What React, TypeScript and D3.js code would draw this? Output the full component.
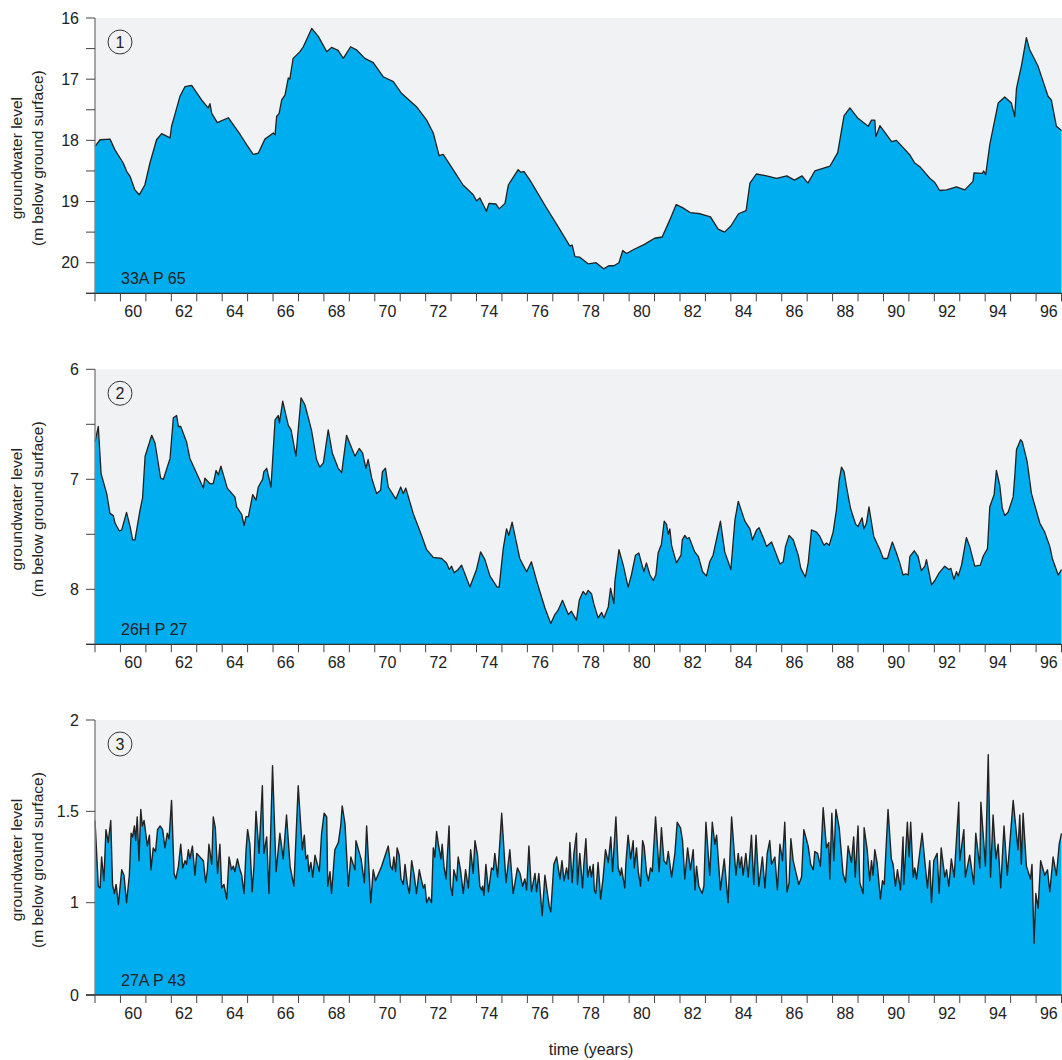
import React from 'react';
import * as d3 from 'd3';

// groundwater level readings, [decimal year, m below ground surface]
const SERIES_33A: [number, number][] = [
  [1959.00, 18.10], [1959.20, 17.99], [1959.59, 17.98], [1959.79, 18.16], [1960.11, 18.37], [1960.25, 18.51],
  [1960.38, 18.59], [1960.57, 18.81], [1960.74, 18.89], [1960.96, 18.73], [1961.16, 18.37], [1961.42, 17.99],
  [1961.62, 17.89], [1961.95, 17.96], [1962.01, 17.77], [1962.14, 17.58], [1962.34, 17.28], [1962.54, 17.12],
  [1962.80, 17.10], [1963.19, 17.34], [1963.45, 17.47], [1963.52, 17.40], [1963.59, 17.56], [1963.81, 17.71],
  [1964.24, 17.63], [1964.70, 17.90], [1964.96, 18.07], [1965.22, 18.23], [1965.42, 18.21], [1965.68, 17.98],
  [1966.01, 17.88], [1966.08, 17.91], [1966.14, 17.61], [1966.24, 17.56], [1966.34, 17.34], [1966.47, 17.26],
  [1966.60, 16.98], [1966.66, 17.00], [1966.79, 16.66], [1967.06, 16.55], [1967.19, 16.47], [1967.52, 16.17],
  [1967.78, 16.30], [1968.11, 16.55], [1968.30, 16.48], [1968.56, 16.53], [1968.76, 16.66], [1969.05, 16.47],
  [1969.28, 16.52], [1969.61, 16.66], [1969.94, 16.73], [1970.33, 16.96], [1970.73, 17.04], [1971.05, 17.23],
  [1971.64, 17.45], [1972.04, 17.67], [1972.30, 17.88], [1972.53, 18.25], [1972.69, 18.23], [1973.08, 18.48],
  [1973.47, 18.73], [1973.87, 18.89], [1974.00, 18.99], [1974.13, 18.94], [1974.39, 19.16], [1974.49, 19.03],
  [1974.76, 19.04], [1974.89, 19.12], [1975.12, 19.03], [1975.25, 18.73], [1975.64, 18.48], [1975.74, 18.52],
  [1975.87, 18.51], [1976.10, 18.65], [1976.76, 19.11], [1977.28, 19.46], [1977.67, 19.73], [1977.76, 19.71],
  [1977.87, 19.90], [1978.06, 19.91], [1978.40, 20.02], [1978.70, 20.00], [1979.00, 20.10], [1979.20, 20.05],
  [1979.40, 20.05], [1979.60, 20.00], [1979.75, 19.80], [1979.90, 19.85], [1980.20, 19.78], [1980.60, 19.70],
  [1981.00, 19.60], [1981.30, 19.58], [1981.60, 19.30], [1981.85, 19.05], [1982.10, 19.10], [1982.40, 19.18],
  [1982.80, 19.20], [1983.20, 19.25], [1983.50, 19.45], [1983.75, 19.50], [1984.00, 19.40], [1984.30, 19.20],
  [1984.60, 19.15], [1984.75, 18.70], [1985.00, 18.55], [1985.40, 18.58], [1985.80, 18.62], [1986.20, 18.58],
  [1986.50, 18.65], [1986.80, 18.58], [1987.03, 18.70], [1987.30, 18.50], [1987.90, 18.42], [1988.20, 18.20],
  [1988.45, 17.60], [1988.68, 17.47], [1989.00, 17.64], [1989.40, 17.77], [1989.53, 17.67], [1989.66, 17.67],
  [1989.70, 17.94], [1989.86, 17.76], [1990.32, 18.02], [1990.51, 18.00], [1991.04, 18.24], [1991.23, 18.37],
  [1991.43, 18.43], [1991.82, 18.62], [1992.02, 18.69], [1992.21, 18.82], [1992.48, 18.81], [1992.87, 18.76],
  [1993.20, 18.81], [1993.52, 18.67], [1993.56, 18.53], [1993.89, 18.54], [1993.94, 18.50], [1994.02, 18.56],
  [1994.18, 18.07], [1994.51, 17.39], [1994.77, 17.29], [1995.03, 17.39], [1995.16, 17.61], [1995.23, 17.15],
  [1995.43, 16.77], [1995.62, 16.32], [1995.75, 16.52], [1996.08, 16.79], [1996.47, 17.28], [1996.60, 17.34],
  [1996.80, 17.77], [1997.00, 17.84],
];

const SERIES_26H: [number, number][] = [
  [1959.00, 6.66], [1959.13, 6.52], [1959.24, 6.95], [1959.46, 7.13], [1959.59, 7.31], [1959.72, 7.33],
  [1959.79, 7.40], [1959.96, 7.47], [1960.05, 7.46], [1960.24, 7.30], [1960.38, 7.43], [1960.48, 7.55],
  [1960.57, 7.55], [1960.77, 7.28], [1960.87, 7.17], [1960.97, 6.79], [1961.23, 6.60], [1961.36, 6.67],
  [1961.58, 6.99], [1961.69, 7.00], [1961.95, 6.81], [1962.08, 6.44], [1962.21, 6.42], [1962.28, 6.52],
  [1962.37, 6.52], [1962.60, 6.66], [1962.73, 6.81], [1963.26, 7.08], [1963.32, 6.99], [1963.52, 7.04],
  [1963.65, 7.04], [1963.76, 6.92], [1963.85, 6.96], [1963.95, 6.88], [1964.20, 7.08], [1964.50, 7.16],
  [1964.57, 7.25], [1964.77, 7.32], [1964.86, 7.42], [1964.94, 7.34], [1965.03, 7.34], [1965.20, 7.14],
  [1965.33, 7.19], [1965.42, 7.07], [1965.59, 7.00], [1965.64, 6.93], [1965.75, 6.90], [1965.92, 7.07],
  [1966.08, 6.46], [1966.21, 6.42], [1966.25, 6.49], [1966.38, 6.29], [1966.60, 6.51], [1966.71, 6.55],
  [1966.90, 6.79], [1967.10, 6.26], [1967.25, 6.32], [1967.51, 6.55], [1967.71, 6.82], [1967.84, 6.89],
  [1967.98, 6.85], [1968.17, 6.55], [1968.33, 6.76], [1968.56, 6.90], [1968.70, 6.94], [1968.89, 6.60],
  [1969.22, 6.79], [1969.39, 6.72], [1969.52, 6.76], [1969.65, 6.90], [1969.74, 6.82], [1969.88, 6.99],
  [1970.07, 7.13], [1970.23, 7.10], [1970.30, 6.93], [1970.42, 6.90], [1970.53, 7.07], [1970.83, 7.18],
  [1971.02, 7.07], [1971.12, 7.13], [1971.22, 7.08], [1971.51, 7.31], [1971.84, 7.51], [1972.04, 7.64],
  [1972.30, 7.71], [1972.63, 7.72], [1972.82, 7.76], [1972.93, 7.82], [1973.02, 7.79], [1973.12, 7.85],
  [1973.28, 7.82], [1973.41, 7.78], [1973.74, 7.98], [1974.00, 7.82], [1974.16, 7.66], [1974.33, 7.73],
  [1974.53, 7.88], [1974.81, 7.98], [1974.89, 7.98], [1975.05, 7.63], [1975.18, 7.45], [1975.27, 7.51],
  [1975.40, 7.39], [1975.70, 7.72], [1975.97, 7.84], [1976.16, 7.75], [1976.36, 7.92], [1976.69, 8.17],
  [1976.92, 8.31], [1977.08, 8.23], [1977.21, 8.19], [1977.38, 8.10], [1977.61, 8.23], [1977.73, 8.20],
  [1977.93, 8.28], [1978.04, 8.10], [1978.19, 8.02], [1978.30, 8.05], [1978.39, 8.01], [1978.52, 8.04],
  [1978.61, 8.13], [1978.78, 8.26], [1978.92, 8.21], [1979.01, 8.26], [1979.18, 8.16], [1979.27, 7.99],
  [1979.40, 8.13], [1979.44, 7.93], [1979.60, 7.64], [1979.77, 7.78], [1979.96, 7.98], [1980.09, 7.87],
  [1980.25, 7.69], [1980.38, 7.67], [1980.58, 7.84], [1980.68, 7.76], [1980.82, 7.87], [1980.95, 7.92],
  [1981.05, 7.87], [1981.14, 7.67], [1981.27, 7.59], [1981.38, 7.38], [1981.47, 7.41], [1981.54, 7.50],
  [1981.60, 7.45], [1981.67, 7.60], [1981.86, 7.76], [1982.04, 7.69], [1982.09, 7.55], [1982.19, 7.51],
  [1982.28, 7.54], [1982.36, 7.53], [1982.58, 7.66], [1982.72, 7.70], [1982.89, 7.84], [1983.04, 7.88],
  [1983.17, 7.75], [1983.30, 7.69], [1983.59, 7.38], [1983.76, 7.66], [1984.00, 7.82], [1984.16, 7.37],
  [1984.29, 7.20], [1984.55, 7.38], [1984.75, 7.45], [1984.85, 7.55], [1985.01, 7.46], [1985.11, 7.44],
  [1985.31, 7.55], [1985.40, 7.61], [1985.60, 7.57], [1985.93, 7.77], [1986.06, 7.75], [1986.15, 7.61],
  [1986.29, 7.51], [1986.45, 7.55], [1986.65, 7.69], [1986.75, 7.81], [1986.93, 7.89], [1987.04, 7.76],
  [1987.17, 7.46], [1987.37, 7.48], [1987.50, 7.52], [1987.66, 7.60], [1987.76, 7.58], [1987.87, 7.60],
  [1988.02, 7.48], [1988.15, 7.28], [1988.26, 7.01], [1988.35, 6.89], [1988.45, 6.93], [1988.55, 7.07],
  [1988.70, 7.26], [1988.81, 7.34], [1988.91, 7.41], [1989.00, 7.43], [1989.16, 7.35], [1989.23, 7.45],
  [1989.33, 7.40], [1989.43, 7.25], [1989.62, 7.52], [1989.86, 7.64], [1989.99, 7.72], [1990.16, 7.72],
  [1990.23, 7.66], [1990.35, 7.57], [1990.51, 7.67], [1990.64, 7.76], [1990.77, 7.87], [1990.88, 7.86],
  [1990.97, 7.87], [1991.04, 7.70], [1991.21, 7.65], [1991.36, 7.70], [1991.49, 7.83], [1991.63, 7.79],
  [1991.69, 7.73], [1991.89, 7.96], [1992.02, 7.92], [1992.19, 7.85], [1992.41, 7.79], [1992.57, 7.82],
  [1992.65, 7.81], [1992.77, 7.91], [1992.87, 7.84], [1992.94, 7.88], [1993.07, 7.78], [1993.26, 7.53],
  [1993.39, 7.61], [1993.59, 7.79], [1993.81, 7.78], [1993.92, 7.70], [1994.09, 7.63], [1994.18, 7.25],
  [1994.35, 7.14], [1994.44, 6.92], [1994.57, 7.05], [1994.67, 7.26], [1994.77, 7.33], [1994.90, 7.30],
  [1995.10, 7.16], [1995.16, 6.98], [1995.23, 6.73], [1995.39, 6.64], [1995.46, 6.66], [1995.65, 6.84],
  [1995.82, 7.13], [1996.15, 7.40], [1996.34, 7.48], [1996.54, 7.61], [1996.64, 7.72], [1996.87, 7.87],
  [1997.00, 7.82],
];

const SERIES_27A: [number, number][] = [
  [1959.00, 1.45], [1959.13, 1.09], [1959.20, 1.08], [1959.26, 1.25], [1959.35, 1.12], [1959.43, 1.40],
  [1959.52, 1.33], [1959.62, 1.45], [1959.69, 1.10], [1959.76, 1.05], [1959.83, 1.10], [1959.92, 0.98],
  [1960.05, 1.18], [1960.14, 1.15], [1960.24, 1.00], [1960.35, 1.15], [1960.42, 1.38], [1960.48, 1.36],
  [1960.55, 1.42], [1960.60, 1.34], [1960.66, 1.47], [1960.73, 1.23], [1960.80, 1.51], [1960.86, 1.42],
  [1960.93, 1.45], [1961.06, 1.31], [1961.14, 1.37], [1961.20, 1.18], [1961.29, 1.30], [1961.38, 1.28],
  [1961.46, 1.40], [1961.56, 1.42], [1961.66, 1.40], [1961.75, 1.30], [1961.84, 1.38], [1961.91, 1.35],
  [1962.01, 1.56], [1962.11, 1.16], [1962.18, 1.13], [1962.28, 1.20], [1962.37, 1.32], [1962.45, 1.19],
  [1962.54, 1.23], [1962.60, 1.21], [1962.67, 1.29], [1962.73, 1.24], [1962.83, 1.31], [1962.93, 1.15],
  [1963.00, 1.27], [1963.26, 1.23], [1963.35, 1.11], [1963.42, 1.18], [1963.48, 1.32], [1963.59, 1.21],
  [1963.65, 1.47], [1963.73, 1.41], [1963.82, 1.16], [1963.91, 1.32], [1963.98, 1.08], [1964.07, 1.10],
  [1964.18, 1.02], [1964.27, 1.25], [1964.37, 1.18], [1964.44, 1.20], [1964.50, 1.17], [1964.60, 1.24],
  [1964.70, 1.18], [1964.77, 1.15], [1964.86, 1.05], [1964.94, 1.29], [1965.00, 1.40], [1965.09, 1.32],
  [1965.18, 1.06], [1965.25, 1.20], [1965.33, 1.50], [1965.45, 1.27], [1965.58, 1.64], [1965.64, 1.27],
  [1965.75, 1.36], [1965.84, 1.05], [1965.98, 1.75], [1966.12, 1.17], [1966.27, 1.38], [1966.40, 1.24],
  [1966.53, 1.48], [1966.67, 1.20], [1966.82, 1.09], [1966.99, 1.64], [1967.15, 1.29], [1967.23, 1.37],
  [1967.29, 1.24], [1967.36, 1.26], [1967.41, 1.17], [1967.49, 1.22], [1967.56, 1.14], [1967.65, 1.26],
  [1967.82, 1.17], [1967.91, 1.38], [1968.01, 1.49], [1968.11, 1.47], [1968.15, 1.09], [1968.24, 1.17],
  [1968.30, 1.05], [1968.43, 1.29], [1968.57, 1.33], [1968.66, 1.42], [1968.72, 1.53], [1968.83, 1.43],
  [1968.96, 1.09], [1969.06, 1.25], [1969.22, 1.18], [1969.26, 1.34], [1969.46, 1.24], [1969.59, 1.11],
  [1969.68, 1.42], [1969.84, 1.00], [1969.94, 1.18], [1970.03, 1.12], [1970.27, 1.20], [1970.53, 1.31],
  [1970.62, 1.20], [1970.69, 1.18], [1970.75, 1.25], [1970.82, 1.17], [1970.88, 1.30], [1970.96, 1.26],
  [1971.03, 1.13], [1971.12, 1.10], [1971.19, 1.21], [1971.28, 1.10], [1971.36, 1.05], [1971.45, 1.23],
  [1971.55, 1.15], [1971.64, 1.05], [1971.75, 1.18], [1971.84, 1.12], [1971.91, 1.08], [1971.97, 1.10],
  [1972.04, 1.00], [1972.13, 1.03], [1972.23, 1.00], [1972.30, 1.30], [1972.36, 1.25], [1972.43, 1.39],
  [1972.50, 1.32], [1972.60, 1.24], [1972.65, 1.32], [1972.72, 1.20], [1972.80, 1.13], [1972.92, 1.42],
  [1972.98, 1.09], [1973.05, 1.04], [1973.11, 1.18], [1973.22, 1.12], [1973.28, 1.25], [1973.37, 1.18],
  [1973.48, 1.05], [1973.57, 1.18], [1973.68, 1.08], [1973.77, 1.29], [1973.87, 1.16], [1973.94, 1.34],
  [1974.04, 1.26], [1974.13, 1.09], [1974.20, 1.07], [1974.24, 1.09], [1974.29, 1.04], [1974.37, 1.21],
  [1974.47, 1.06], [1974.59, 1.19], [1974.66, 1.18], [1974.72, 1.27], [1974.83, 1.14], [1974.99, 1.49],
  [1975.16, 1.11], [1975.31, 1.29], [1975.44, 1.05], [1975.55, 1.14], [1975.61, 1.19], [1975.71, 1.16],
  [1975.81, 1.09], [1975.90, 1.13], [1975.97, 1.07], [1976.06, 1.31], [1976.16, 1.06], [1976.30, 1.16],
  [1976.36, 1.06], [1976.45, 1.16], [1976.58, 0.86], [1976.69, 1.15], [1976.86, 0.96], [1976.92, 0.90],
  [1977.04, 1.21], [1977.15, 1.25], [1977.28, 1.13], [1977.36, 1.23], [1977.44, 1.12], [1977.54, 1.19],
  [1977.61, 1.13], [1977.67, 1.33], [1977.76, 1.11], [1977.83, 1.27], [1977.93, 1.38], [1977.97, 1.10],
  [1978.06, 1.27], [1978.17, 1.08], [1978.22, 1.21], [1978.30, 1.35], [1978.37, 1.14], [1978.46, 1.20],
  [1978.52, 1.14], [1978.59, 1.21], [1978.63, 1.07], [1978.69, 1.05], [1978.78, 1.22], [1978.88, 1.02],
  [1978.98, 1.14], [1979.07, 1.29], [1979.18, 1.22], [1979.28, 1.36], [1979.35, 1.17], [1979.48, 1.47],
  [1979.57, 1.19], [1979.66, 1.15], [1979.70, 1.19], [1979.83, 1.08], [1979.87, 1.21], [1979.96, 1.37],
  [1980.06, 1.24], [1980.16, 1.34], [1980.20, 1.19], [1980.29, 1.30], [1980.36, 1.17], [1980.45, 1.09],
  [1980.53, 1.34], [1980.59, 1.31], [1980.69, 1.16], [1980.76, 1.12], [1980.84, 1.19], [1980.91, 1.17],
  [1981.04, 1.47], [1981.18, 1.17], [1981.27, 1.41], [1981.37, 1.23], [1981.47, 1.21], [1981.54, 1.28],
  [1981.67, 1.14], [1981.80, 1.27], [1981.89, 1.44], [1982.02, 1.41], [1982.10, 1.34], [1982.19, 1.13],
  [1982.30, 1.30], [1982.41, 1.18], [1982.52, 1.29], [1982.59, 1.07], [1982.65, 1.20], [1982.74, 1.09],
  [1982.87, 1.05], [1982.94, 1.09], [1983.02, 1.44], [1983.17, 1.15], [1983.27, 1.44], [1983.37, 1.32],
  [1983.44, 1.37], [1983.59, 1.07], [1983.74, 1.24], [1983.89, 1.00], [1984.03, 1.47], [1984.20, 1.15],
  [1984.29, 1.27], [1984.35, 1.19], [1984.42, 1.25], [1984.48, 1.15], [1984.59, 1.27], [1984.68, 1.14],
  [1984.81, 1.37], [1984.90, 1.10], [1984.99, 1.37], [1985.10, 1.09], [1985.24, 1.25], [1985.34, 1.08],
  [1985.43, 1.27], [1985.53, 1.34], [1985.60, 1.21], [1985.73, 1.25], [1985.83, 1.07], [1985.93, 1.32],
  [1986.03, 1.23], [1986.12, 1.44], [1986.21, 1.06], [1986.29, 1.11], [1986.36, 1.35], [1986.45, 1.23],
  [1986.55, 1.17], [1986.67, 1.10], [1986.78, 1.14], [1986.87, 1.40], [1987.04, 1.31], [1987.14, 1.21],
  [1987.24, 1.18], [1987.30, 1.28], [1987.41, 1.27], [1987.52, 1.20], [1987.63, 1.52], [1987.76, 1.30],
  [1987.85, 1.33], [1987.89, 1.13], [1987.97, 1.49], [1988.05, 1.23], [1988.13, 1.51], [1988.26, 1.41],
  [1988.41, 1.16], [1988.51, 1.11], [1988.61, 1.31], [1988.74, 1.22], [1988.83, 1.36], [1988.89, 1.14],
  [1989.00, 1.42], [1989.07, 1.11], [1989.20, 1.05], [1989.24, 1.41], [1989.36, 1.29], [1989.46, 1.12],
  [1989.53, 1.23], [1989.59, 1.15], [1989.66, 1.29], [1989.75, 1.22], [1989.88, 1.02], [1989.96, 1.12],
  [1990.03, 1.10], [1990.18, 1.51], [1990.31, 1.24], [1990.38, 1.21], [1990.47, 1.09], [1990.55, 1.18],
  [1990.67, 1.07], [1990.77, 1.36], [1990.80, 1.10], [1990.94, 1.44], [1991.01, 1.25], [1991.07, 1.44],
  [1991.17, 1.14], [1991.23, 1.19], [1991.30, 1.13], [1991.52, 1.38], [1991.73, 1.08], [1991.82, 1.23],
  [1991.89, 1.00], [1991.98, 1.23], [1992.11, 1.27], [1992.19, 1.05], [1992.27, 1.30], [1992.41, 1.14],
  [1992.48, 1.18], [1992.57, 1.09], [1992.67, 1.24], [1992.78, 1.14], [1992.96, 1.55], [1993.00, 1.23],
  [1993.16, 1.40], [1993.22, 1.14], [1993.39, 1.26], [1993.55, 1.10], [1993.63, 1.38], [1993.79, 1.19],
  [1993.83, 1.55], [1994.01, 1.20], [1994.12, 1.81], [1994.21, 1.14], [1994.31, 1.48], [1994.42, 1.24],
  [1994.51, 1.32], [1994.61, 1.08], [1994.74, 1.42], [1994.87, 1.15], [1995.10, 1.56], [1995.29, 1.29],
  [1995.36, 1.48], [1995.42, 1.21], [1995.49, 1.49], [1995.62, 1.20], [1995.78, 1.13], [1995.84, 1.21],
  [1995.92, 0.56], [1995.99, 1.05], [1996.08, 0.94], [1996.18, 1.23], [1996.34, 1.15], [1996.45, 1.18],
  [1996.54, 1.06], [1996.67, 1.25], [1996.80, 1.15], [1996.91, 1.32], [1997.00, 1.38],
];

const STATIONS = ['33A P 65', '26H P 27', '27A P 43'];
const PANEL_NUMBERS = ['1', '2', '3'];

const MAJOR_1 = [16, 17, 18, 19, 20];
const MINOR_1 = [16.5, 17.5, 18.5, 19.5, 20.5];
const MAJOR_2 = [6, 7, 8];
const MINOR_2 = [6.5, 7.5, 8.5];
const MAJOR_3 = [0, 1, 1.5, 2];
const MINOR_3: number[] = [];

const YEAR_TICKS = d3.range(1959, 1998);
const YEAR_LABELS = d3.range(1960, 1997, 2);

const FONT = '"Liberation Sans", Arial, sans-serif';
const BG = '#f1f2f4';
const FILL = '#00adee';
const INK = '#222';

const W = 1062;
const H = 1060;
const LEFT = 95;
const RIGHT = 1062;

const x = d3.scaleLinear().domain([1959, 1997]).range([LEFT, 1061.5]);

type Panel = {
  data: [number, number][];
  y: d3.ScaleLinear<number, number>;
  top: number;
  bottom: number;
  major: number[];
  minor: number[];
  station: string;
  num: string;
  stroke: number;
};

const panels: Panel[] = [
  {
    data: SERIES_33A, y: d3.scaleLinear().domain([16, 20.5]).range([18, 293.3]),
    top: 18, bottom: 293.3, major: MAJOR_1, minor: MINOR_1, station: STATIONS[0], num: PANEL_NUMBERS[0], stroke: 1.3,
  },
  {
    data: SERIES_26H, y: d3.scaleLinear().domain([6, 8.5]).range([369.3, 644.3]),
    top: 369.3, bottom: 644.3, major: MAJOR_2, minor: MINOR_2, station: STATIONS[1], num: PANEL_NUMBERS[1], stroke: 1.3,
  },
  {
    // broken axis: 0 sits at the bottom, 1 to 2 spread over most of the height
    data: SERIES_27A, y: d3.scaleLinear().domain([0, 1, 2]).range([995, 902.7, 720]),
    top: 720, bottom: 995, major: MAJOR_3, minor: MINOR_3, station: STATIONS[2], num: PANEL_NUMBERS[2], stroke: 1.4,
  },
];

const PanelChart: React.FC<{ p: Panel }> = ({ p }) => {
  const area = d3.area<[number, number]>()
    .x(d => x(d[0]))
    .y0(p.bottom)
    .y1(d => p.y(d[1]));
  const line = d3.line<[number, number]>()
    .x(d => x(d[0]))
    .y(d => p.y(d[1]));
  const mid = (p.top + p.bottom) / 2 + 2.5;

  return (
    <g>
      <rect x={LEFT} y={p.top} width={RIGHT - LEFT} height={p.bottom - p.top} fill={BG} />
      <path d={area(p.data) || ''} fill={FILL} />
      <path d={line(p.data) || ''} fill="none" stroke={INK} strokeWidth={p.stroke} strokeLinejoin="round" />

      {/* left axis */}
      <line x1={LEFT} x2={LEFT} y1={p.top} y2={p.bottom} stroke="#888" strokeWidth={1.5} />
      {p.major.concat(p.minor).map(v => (
        <line key={'t' + v} x1={86} x2={LEFT} y1={p.y(v)} y2={p.y(v)} stroke="#444" strokeWidth={1} />
      ))}
      {p.major.map(v => (
        <text key={'l' + v} x={79} y={p.y(v) + 5.5} textAnchor="end" fontSize={16} fill={INK}>{v}</text>
      ))}

      {/* bottom axis */}
      <line x1={86} x2={RIGHT} y1={p.bottom} y2={p.bottom} stroke="#333" strokeWidth={1.3} />
      {YEAR_TICKS.map(yr => (
        <line key={'x' + yr} x1={x(yr)} x2={x(yr)} y1={p.bottom} y2={p.bottom + 8} stroke="#444" strokeWidth={1} />
      ))}
      {YEAR_LABELS.map(yr => (
        <text key={'xl' + yr} x={x(yr + 0.5)} y={p.bottom + 24} textAnchor="middle" fontSize={16} fill={INK}>
          {String(yr).slice(2)}
        </text>
      ))}

      {/* y title */}
      <text transform={`translate(22,${mid}) rotate(-90)`} textAnchor="middle" fontSize={15.5} fill={INK}>
        groundwater level
      </text>
      <text transform={`translate(43,${mid}) rotate(-90)`} textAnchor="middle" fontSize={15.5} fill={INK}>
        (m below ground surface)
      </text>

      {/* panel number and station */}
      <circle cx={120} cy={p.top + 24} r={12} fill="none" stroke="#333" strokeWidth={1} />
      <text x={120} y={p.top + 29.5} textAnchor="middle" fontSize={16} fill={INK}>{p.num}</text>
      <text x={121} y={p.bottom - 9} fontSize={16} fill={INK}>{p.station}</text>
    </g>
  );
};

const App: React.FC = () => {
  return (
    <svg width={W} height={H} style={{ position: 'absolute', left: 0, top: 0, background: '#fff' }} fontFamily={FONT}>
      {panels.map((p, i) => <PanelChart key={i} p={p} />)}
      <text x={591} y={1055} textAnchor="middle" fontSize={16} fill={INK}>time (years)</text>
    </svg>
  );
};

export default App;
